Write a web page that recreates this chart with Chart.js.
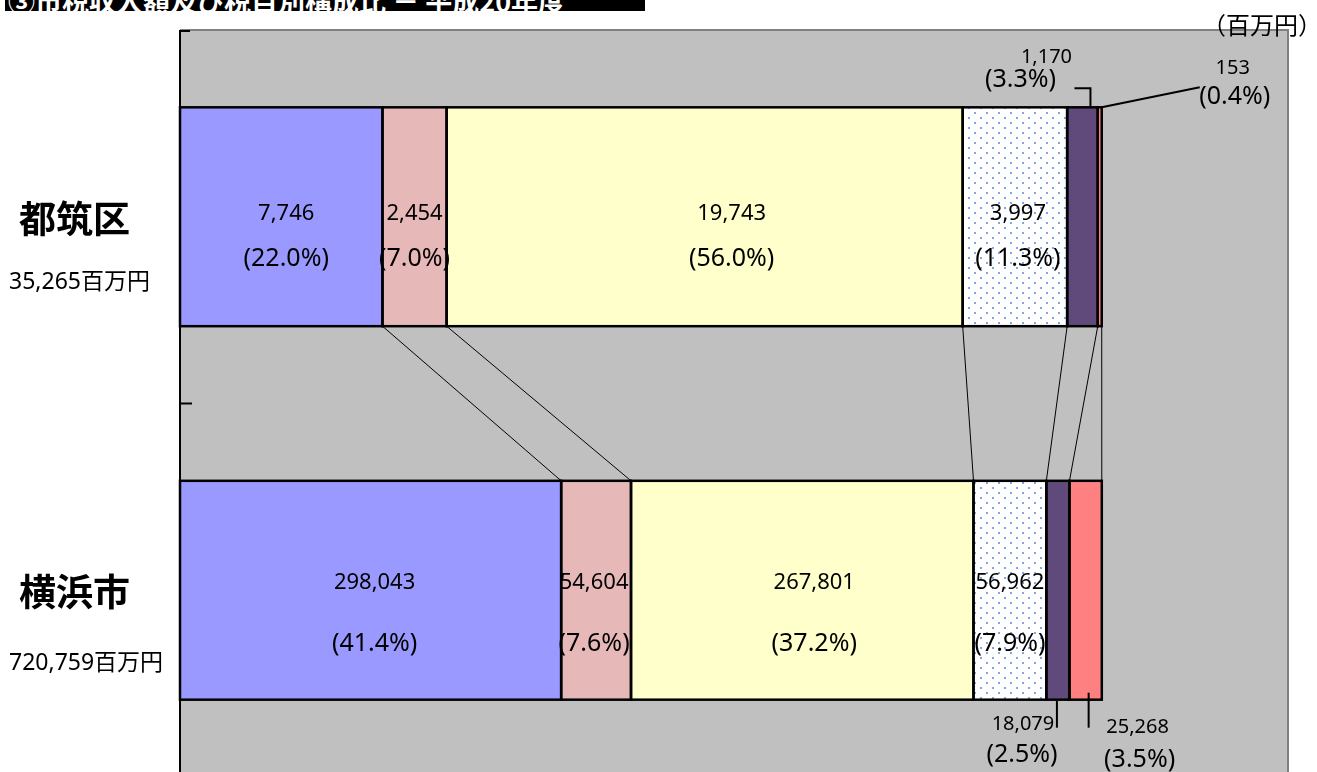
<!DOCTYPE html>
<html lang="ja">
<head>
<meta charset="utf-8">
<title>市税収入額及び税目別構成比</title>
<script src="https://cdn.jsdelivr.net/npm/chart.js@4.4.1/dist/chart.umd.min.js"></script>
<style>
  html, body { margin: 0; padding: 0; background: #fff; overflow: hidden; }
  #wrap { position: relative; width: 1317px; height: 800px; }
  #title {
    position: absolute; left: 5px; top: -19px; width: 637px; height: 30px;
    line-height: 29px; padding-left: 3px; background: #000; color: #fff;
    font: bold 27px "Noto Sans CJK JP", sans-serif; white-space: nowrap; overflow: hidden;
  }
</style>
</head>
<body>
<div id="wrap">
  <canvas id="taxChart"></canvas>
  <div id="title">③市税収入額及び税目別構成比 － 平成20年度</div>
</div>
<script>
'use strict';

var areaNames = ['都筑区', '横浜市'];
var areaTotals = [35265, 720759];
var tsuzukiValues = [7746, 2454, 19743, 3997, 1170, 153];
var yokohamaValues = [298043, 54604, 267801, 56962, 18079, 25268];
var unitLabel = '（百万円）';

var segmentColors = ['#9999ff', '#e6b9b8', '#ffffcc', 'dots', '#604a7b', '#ff8080'];
var numFont = '"Noto Sans", "Noto Sans CJK JP", sans-serif';
var cjkFont = '"Noto Sans CJK JP", sans-serif';

// offsets of the text inside each bar, per row
var rowLayout = [
  { valueDy: -3, pctDy: 42, nameDy: 2, totalDy: 66, nudge: [5, 0, 27, 3, 0, 0] },
  { valueDy: -8, pctDy: 54, nameDy: 2, totalDy: 73, nudge: [4, -2, 12, 0, 0, 0] }
];

// small segments get their labels outside the bar with a leader line
var outsideLabels = {
  '0-4': { side: 'top', vx: -36, vy: -50, px: -62, py: -27, leader: [[8, 0], [8, -19], [-8, -19]] },
  '0-5': { side: 'top', vx: 133, vy: -39, px: 135, py: -10, leader: [[2, 0], [100, -20]] },
  '1-4': { side: 'bottom', vx: -35, vy: 25, px: -36, py: 55, leader: [[-1, 1], [-1, 28]] },
  '1-5': { side: 'bottom', vx: 52, vy: 28, px: 54, py: 60, leader: [[3, -7], [3, 28]] }
};

function toPercent(values, total) {
  return values.map(function(v) { return v / total * 100; });
}

var tsuzukiPct = toPercent(tsuzukiValues, areaTotals[0]);
var yokohamaPct = toPercent(yokohamaValues, areaTotals[1]);
var rawValues = [tsuzukiValues, yokohamaValues];
var rawPct = [tsuzukiPct, yokohamaPct];

function formatNum(n) {
  return n.toLocaleString('en-US');
}

function dotPattern(ctx) {
  var c = document.createElement('canvas');
  c.width = 12;
  c.height = 10;
  var g = c.getContext('2d');
  g.fillStyle = '#ffffff';
  g.fillRect(0, 0, 12, 10);
  g.fillStyle = '#7fa7e0';
  g.fillRect(2, 2, 2, 2);
  g.fillRect(8, 7, 2, 2);
  return ctx.createPattern(c, 'repeat');
}

var canvas = document.getElementById('taxChart');
var ctx = canvas.getContext('2d');

var datasets = [];
for (var i = 0; i < tsuzukiValues.length; i++) {
  datasets.push({
    data: [tsuzukiPct[i], yokohamaPct[i]],
    backgroundColor: segmentColors[i] === 'dots' ? dotPattern(ctx) : segmentColors[i],
    borderWidth: 0,
    barPercentage: 0.586,
    categoryPercentage: 1
  });
}

// grey plot area with its border and the short axis ticks
var plotBackground = {
  id: 'plotBackground',
  beforeDatasetsDraw: function(chart) {
    var a = chart.chartArea;
    var c = chart.ctx;
    c.save();
    c.fillStyle = '#c0c0c0';
    c.fillRect(a.left, a.top, a.right - a.left, a.bottom - a.top);
    c.strokeStyle = '#808080';
    c.lineWidth = 2;
    c.beginPath();
    c.moveTo(a.left, a.top);
    c.lineTo(a.right, a.top);
    c.lineTo(a.right, a.bottom);
    c.stroke();
    c.strokeStyle = '#000';
    c.beginPath();
    c.moveTo(a.left, a.top);
    c.lineTo(a.left, a.bottom);
    var mid = (a.top + a.bottom) / 2;
    c.moveTo(a.left, a.top + 1);
    c.lineTo(a.left + 10, a.top + 1);
    c.moveTo(a.left, mid);
    c.lineTo(a.left + 12, mid);
    c.stroke();
    c.restore();
  }
};

// lines joining matching segment edges of the two bars
var connectors = {
  id: 'connectors',
  beforeDatasetsDraw: function(chart) {
    var c = chart.ctx;
    c.save();
    c.strokeStyle = '#000';
    c.lineWidth = 1;
    c.beginPath();
    for (var d = 0; d < chart.data.datasets.length; d++) {
      var meta = chart.getDatasetMeta(d);
      var up = meta.data[0].getProps(['x', 'y', 'height'], true);
      var lo = meta.data[1].getProps(['x', 'y', 'height'], true);
      c.moveTo(up.x, up.y + up.height / 2);
      c.lineTo(lo.x, lo.y - lo.height / 2);
    }
    c.stroke();
    c.restore();
  }
};

// one shared outline per segment so neighbouring edges don't double up
var segmentOutlines = {
  id: 'segmentOutlines',
  afterDatasetsDraw: function(chart) {
    var c = chart.ctx;
    c.save();
    c.strokeStyle = '#000';
    c.lineWidth = 2.5;
    for (var d = 0; d < chart.data.datasets.length; d++) {
      chart.getDatasetMeta(d).data.forEach(function(el) {
        var b = el.getProps(['x', 'y', 'base', 'height'], true);
        c.strokeRect(b.base, b.y - b.height / 2, b.x - b.base, b.height);
      });
    }
    c.restore();
  }
};

var barLabels = {
  id: 'barLabels',
  afterDatasetsDraw: function(chart) {
    var c = chart.ctx;
    c.save();
    c.fillStyle = '#000';
    c.textAlign = 'center';
    c.textBaseline = 'middle';
    for (var row = 0; row < areaNames.length; row++) {
      var lay = rowLayout[row];
      for (var d = 0; d < chart.data.datasets.length; d++) {
        var bar = chart.getDatasetMeta(d).data[row].getProps(['x', 'y', 'base', 'height'], true);
        var cx = (bar.x + bar.base) / 2;
        var valueText = formatNum(rawValues[row][d]);
        var pctText = '(' + rawPct[row][d].toFixed(1) + '%)';
        var spec = outsideLabels[row + '-' + d];
        if (spec) {
          var edge = spec.side === 'top' ? bar.y - bar.height / 2 : bar.y + bar.height / 2;
          c.strokeStyle = '#000';
          c.lineWidth = 2;
          c.beginPath();
          spec.leader.forEach(function(p, k) {
            if (k === 0) c.moveTo(cx + p[0], edge + p[1]);
            else c.lineTo(cx + p[0], edge + p[1]);
          });
          c.stroke();
          c.font = '20px ' + numFont;
          c.fillText(valueText, cx + spec.vx, edge + spec.vy);
          c.font = '25px ' + numFont;
          c.fillText(pctText, cx + spec.px, edge + spec.py);
        } else {
          cx += lay.nudge[d];
          c.font = '22px ' + numFont;
          c.fillText(valueText, cx, bar.y + lay.valueDy);
          c.font = '25px ' + numFont;
          c.fillText(pctText, cx, bar.y + lay.pctDy);
        }
      }

      // area name and total on the left of each bar
      var first = chart.getDatasetMeta(0).data[row];
      c.textAlign = 'left';
      c.font = 'bold 37px ' + cjkFont;
      c.fillText(areaNames[row], 19, first.y + lay.nameDy);
      c.font = '23px ' + numFont;
      c.fillText(formatNum(areaTotals[row]) + '百万円', 9, first.y + lay.totalDy);
      c.textAlign = 'center';
    }
    c.textAlign = 'right';
    c.font = '24px ' + cjkFont;
    c.fillText(unitLabel, 1322, 25);
    c.restore();
  }
};

new Chart(canvas, {
  type: 'bar',
  data: { labels: areaNames, datasets: datasets },
  options: {
    indexAxis: 'y',
    responsive: true,
    maintainAspectRatio: false,
    animation: false,
    layout: { padding: { left: 180, top: 30, right: 29, bottom: 23 } },
    scales: {
      x: { stacked: true, min: 0, max: 120.2, display: false },
      y: { stacked: true, display: false }
    },
    plugins: {
      legend: { display: false },
      tooltip: { enabled: false }
    }
  },
  plugins: [plotBackground, connectors, segmentOutlines, barLabels]
});
</script>
</body>
</html>
